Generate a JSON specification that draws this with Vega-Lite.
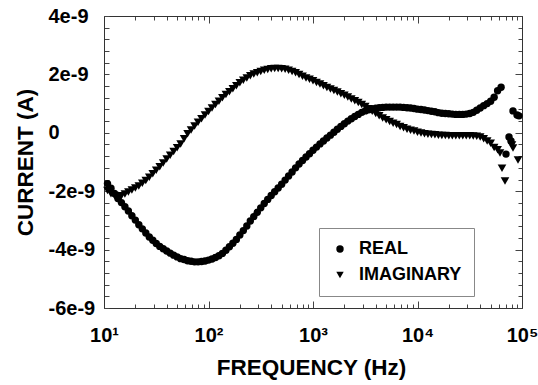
{
"$schema": "https://vega.github.io/schema/vega-lite/v6.json",
"width": 418, "height": 292,
"autosize": {"type": "none"},
"padding": {"left": 104, "top": 16, "right": 16, "bottom": 77},
"background": "white",
"config": {"view": {"stroke": null}, "font": "Liberation Sans"},
"data": {"values": [
{"f":10.8,"REAL":-1.74e-9,"IMAGINARY":-1.98e-9},
{"f":11.66,"REAL":-1.9e-9,"IMAGINARY":-2.09e-9},
{"f":12.59,"REAL":-2.08e-9,"IMAGINARY":-2.15e-9},
{"f":13.59,"REAL":-2.25e-9,"IMAGINARY":-2.18e-9},
{"f":14.68,"REAL":-2.39e-9,"IMAGINARY":-2.16e-9},
{"f":15.85,"REAL":-2.53e-9,"IMAGINARY":-2.1e-9},
{"f":17.11,"REAL":-2.68e-9,"IMAGINARY":-2.03e-9},
{"f":18.48,"REAL":-2.84e-9,"IMAGINARY":-1.96e-9},
{"f":19.95,"REAL":-2.99e-9,"IMAGINARY":-1.89e-9},
{"f":21.54,"REAL":-3.15e-9,"IMAGINARY":-1.82e-9},
{"f":23.26,"REAL":-3.29e-9,"IMAGINARY":-1.73e-9},
{"f":25.12,"REAL":-3.43e-9,"IMAGINARY":-1.63e-9},
{"f":27.12,"REAL":-3.57e-9,"IMAGINARY":-1.52e-9},
{"f":29.29,"REAL":-3.68e-9,"IMAGINARY":-1.4e-9},
{"f":31.62,"REAL":-3.79e-9,"IMAGINARY":-1.28e-9},
{"f":34.15,"REAL":-3.89e-9,"IMAGINARY":-1.16e-9},
{"f":36.87,"REAL":-3.97e-9,"IMAGINARY":-1.03e-9},
{"f":39.81,"REAL":-4.05e-9,"IMAGINARY":-0.9e-9},
{"f":42.99,"REAL":-4.12e-9,"IMAGINARY":-0.77e-9},
{"f":46.42,"REAL":-4.19e-9,"IMAGINARY":-0.64e-9},
{"f":50.12,"REAL":-4.25e-9,"IMAGINARY":-0.51e-9},
{"f":54.12,"REAL":-4.31e-9,"IMAGINARY":-0.38e-9},
{"f":58.43,"REAL":-4.34e-9,"IMAGINARY":-0.2e-9},
{"f":63.1,"REAL":-4.38e-9,"IMAGINARY":-0.03e-9},
{"f":68.13,"REAL":-4.4e-9,"IMAGINARY":0.1e-9},
{"f":73.56,"REAL":-4.42e-9,"IMAGINARY":0.23e-9},
{"f":79.43,"REAL":-4.42e-9,"IMAGINARY":0.36e-9},
{"f":85.77,"REAL":-4.41e-9,"IMAGINARY":0.48e-9},
{"f":92.61,"REAL":-4.39e-9,"IMAGINARY":0.61e-9},
{"f":100,"REAL":-4.36e-9,"IMAGINARY":0.73e-9},
{"f":108,"REAL":-4.32e-9,"IMAGINARY":0.85e-9},
{"f":116.6,"REAL":-4.27e-9,"IMAGINARY":0.97e-9},
{"f":125.9,"REAL":-4.21e-9,"IMAGINARY":1.08e-9},
{"f":135.9,"REAL":-4.13e-9,"IMAGINARY":1.2e-9},
{"f":146.8,"REAL":-4.02e-9,"IMAGINARY":1.31e-9},
{"f":158.5,"REAL":-3.9e-9,"IMAGINARY":1.41e-9},
{"f":171.1,"REAL":-3.78e-9,"IMAGINARY":1.51e-9},
{"f":184.8,"REAL":-3.65e-9,"IMAGINARY":1.61e-9},
{"f":199.5,"REAL":-3.5e-9,"IMAGINARY":1.71e-9},
{"f":215.4,"REAL":-3.35e-9,"IMAGINARY":1.8e-9},
{"f":232.6,"REAL":-3.19e-9,"IMAGINARY":1.88e-9},
{"f":251.2,"REAL":-3.02e-9,"IMAGINARY":1.95e-9},
{"f":271.2,"REAL":-2.87e-9,"IMAGINARY":2.01e-9},
{"f":292.9,"REAL":-2.72e-9,"IMAGINARY":2.06e-9},
{"f":316.2,"REAL":-2.57e-9,"IMAGINARY":2.1e-9},
{"f":341.5,"REAL":-2.42e-9,"IMAGINARY":2.14e-9},
{"f":368.7,"REAL":-2.28e-9,"IMAGINARY":2.17e-9},
{"f":398.1,"REAL":-2.15e-9,"IMAGINARY":2.19e-9},
{"f":429.9,"REAL":-2.02e-9,"IMAGINARY":2.2e-9},
{"f":464.2,"REAL":-1.89e-9,"IMAGINARY":2.2e-9},
{"f":501.2,"REAL":-1.76e-9,"IMAGINARY":2.19e-9},
{"f":541.2,"REAL":-1.62e-9,"IMAGINARY":2.18e-9},
{"f":584.3,"REAL":-1.48e-9,"IMAGINARY":2.14e-9},
{"f":631,"REAL":-1.34e-9,"IMAGINARY":2.1e-9},
{"f":681.3,"REAL":-1.2e-9,"IMAGINARY":2.06e-9},
{"f":735.6,"REAL":-1.07e-9,"IMAGINARY":2.0e-9},
{"f":794.3,"REAL":-0.95e-9,"IMAGINARY":1.94e-9},
{"f":857.7,"REAL":-0.83e-9,"IMAGINARY":1.88e-9},
{"f":926.1,"REAL":-0.72e-9,"IMAGINARY":1.83e-9},
{"f":1000,"REAL":-0.6e-9,"IMAGINARY":1.78e-9},
{"f":1080,"REAL":-0.49e-9,"IMAGINARY":1.72e-9},
{"f":1166,"REAL":-0.38e-9,"IMAGINARY":1.67e-9},
{"f":1259,"REAL":-0.28e-9,"IMAGINARY":1.61e-9},
{"f":1359,"REAL":-0.18e-9,"IMAGINARY":1.55e-9},
{"f":1468,"REAL":-0.08e-9,"IMAGINARY":1.5e-9},
{"f":1585,"REAL":0.02e-9,"IMAGINARY":1.45e-9},
{"f":1711,"REAL":0.12e-9,"IMAGINARY":1.4e-9},
{"f":1848,"REAL":0.22e-9,"IMAGINARY":1.34e-9},
{"f":1995,"REAL":0.31e-9,"IMAGINARY":1.29e-9},
{"f":2154,"REAL":0.4e-9,"IMAGINARY":1.23e-9},
{"f":2326,"REAL":0.48e-9,"IMAGINARY":1.16e-9},
{"f":2512,"REAL":0.56e-9,"IMAGINARY":1.1e-9},
{"f":2712,"REAL":0.63e-9,"IMAGINARY":1.04e-9},
{"f":2929,"REAL":0.7e-9,"IMAGINARY":0.97e-9},
{"f":3162,"REAL":0.75e-9,"IMAGINARY":0.9e-9},
{"f":3415,"REAL":0.79e-9,"IMAGINARY":0.82e-9},
{"f":3687,"REAL":0.82e-9,"IMAGINARY":0.74e-9},
{"f":3981,"REAL":0.84e-9,"IMAGINARY":0.66e-9},
{"f":4299,"REAL":0.86e-9,"IMAGINARY":0.58e-9},
{"f":4642,"REAL":0.87e-9,"IMAGINARY":0.51e-9},
{"f":5012,"REAL":0.88e-9,"IMAGINARY":0.45e-9},
{"f":5412,"REAL":0.88e-9,"IMAGINARY":0.39e-9},
{"f":5843,"REAL":0.88e-9,"IMAGINARY":0.33e-9},
{"f":6310,"REAL":0.88e-9,"IMAGINARY":0.28e-9},
{"f":6813,"REAL":0.88e-9,"IMAGINARY":0.22e-9},
{"f":7356,"REAL":0.87e-9,"IMAGINARY":0.17e-9},
{"f":7943,"REAL":0.86e-9,"IMAGINARY":0.12e-9},
{"f":8577,"REAL":0.85e-9,"IMAGINARY":0.09e-9},
{"f":9261,"REAL":0.83e-9,"IMAGINARY":0.06e-9},
{"f":10000,"REAL":0.81e-9,"IMAGINARY":0.02e-9},
{"f":10800,"REAL":0.8e-9,"IMAGINARY":-0.01e-9},
{"f":11660,"REAL":0.78e-9,"IMAGINARY":-0.03e-9},
{"f":12590,"REAL":0.76e-9,"IMAGINARY":-0.05e-9},
{"f":13590,"REAL":0.74e-9,"IMAGINARY":-0.06e-9},
{"f":14680,"REAL":0.72e-9,"IMAGINARY":-0.07e-9},
{"f":15850,"REAL":0.69e-9,"IMAGINARY":-0.08e-9},
{"f":17110,"REAL":0.67e-9,"IMAGINARY":-0.09e-9},
{"f":18480,"REAL":0.66e-9,"IMAGINARY":-0.09e-9},
{"f":19950,"REAL":0.65e-9,"IMAGINARY":-0.1e-9},
{"f":21540,"REAL":0.64e-9,"IMAGINARY":-0.1e-9},
{"f":23260,"REAL":0.63e-9,"IMAGINARY":-0.1e-9},
{"f":25120,"REAL":0.63e-9,"IMAGINARY":-0.1e-9},
{"f":27120,"REAL":0.63e-9,"IMAGINARY":-0.1e-9},
{"f":29290,"REAL":0.64e-9,"IMAGINARY":-0.1e-9},
{"f":31620,"REAL":0.66e-9,"IMAGINARY":-0.1e-9},
{"f":34150,"REAL":0.7e-9,"IMAGINARY":-0.11e-9},
{"f":36870,"REAL":0.77e-9,"IMAGINARY":-0.12e-9},
{"f":39810,"REAL":0.85e-9,"IMAGINARY":-0.14e-9},
{"f":42990,"REAL":0.93e-9,"IMAGINARY":-0.2e-9},
{"f":46420,"REAL":1.0e-9,"IMAGINARY":-0.28e-9},
{"f":50120,"REAL":1.08e-9,"IMAGINARY":-0.36e-9},
{"f":54120,"REAL":1.22e-9,"IMAGINARY":-0.5e-9},
{"f":58430,"REAL":1.44e-9,"IMAGINARY":-0.58e-9},
{"f":61600,"IMAGINARY":-0.69e-9},
{"f":63100,"REAL":1.56e-9},
{"f":64370,"IMAGINARY":-1.21e-9},
{"f":68760,"IMAGINARY":-1.65e-9},
{"f":70300,"REAL":-0.73e-9},
{"f":75100,"REAL":-0.14e-9},
{"f":78500,"REAL":-0.28e-9},
{"f":80200,"IMAGINARY":-0.42e-9},
{"f":82000,"REAL":0.75e-9,"IMAGINARY":-0.52e-9},
{"f":89600,"REAL":0.61e-9},
{"f":91600,"IMAGINARY":-0.93e-9},
{"f":93600,"REAL":0.58e-9}
]},
"transform": [
  {"fold": ["REAL", "IMAGINARY"], "as": ["s", "i"]},
  {"filter": "datum.i != null"}
],
"layer": [
  {
    "transform": [{"filter": "datum.s == 'REAL'"}],
    "mark": {"type": "point", "filled": true, "color": "black", "opacity": 1, "size": 55},
    "encoding": {
      "x": {"field": "f", "type": "quantitative",
        "scale": {"type": "log", "domain": [10, 100000]},
        "axis": {"orient": "bottom", "grid": false,
          "values": [10,20,30,40,50,60,70,80,90,100,200,300,400,500,600,700,800,900,1000,2000,3000,4000,5000,6000,7000,8000,9000,10000,20000,30000,40000,50000,60000,70000,80000,90000,100000],
          "labelExpr": "datum.value == 10 ? '10¹' : datum.value == 100 ? '10²' : datum.value == 1000 ? '10³' : datum.value == 10000 ? '10⁴' : datum.value == 100000 ? '10⁵' : ''",
          "labelFont": "Liberation Sans", "labelFontSize": 20, "labelFontWeight": "bold", "labelColor": "black",
          "labelPadding": 24, "labelOverlap": false, "labelFlush": false,
          "tickSize": {"condition": {"test": "indexof([10,100,1000,10000,100000], datum.value) >= 0", "value": -7}, "value": -4},
          "tickColor": "#444", "domainColor": "#333",
          "title": "FREQUENCY (Hz)", "titleFont": "Liberation Sans", "titleFontSize": 22.5, "titleFontWeight": "bold", "titleColor": "black",
          "titleX": 207, "titleY": 59, "titleBaseline": "middle", "titleAlign": "center"}},
      "y": {"field": "i", "type": "quantitative",
        "scale": {"domain": [-6e-9, 4e-9], "nice": false, "zero": false},
        "axis": {"orient": "left", "grid": false,
          "values": [-6e-9,-5.6e-9,-5.2e-9,-4.8e-9,-4.4e-9,-4e-9,-3.6e-9,-3.2e-9,-2.8e-9,-2.4e-9,-2e-9,-1.6e-9,-1.2e-9,-8e-10,-4e-10,0,4e-10,8e-10,1.2e-9,1.6e-9,2e-9,2.4e-9,2.8e-9,3.2e-9,3.6e-9,4e-9],
          "labelExpr": "round(datum.value*1e10) % 20 == 0 ? (datum.value == 0 ? '0' : round(datum.value*1e9) + 'e-9') : ''",
          "labelFont": "Liberation Sans", "labelFontSize": 20, "labelFontWeight": "bold", "labelColor": "black",
          "labelAlign": "left", "labelPadding": 61,
          "labelOverlap": false, "labelFlush": false,
          "encode": {"labels": {"update": {"dx": {"signal": "datum.value < 0 ? -7 : 0"}}}},
          "tickSize": -5,
          "tickColor": "#444", "domainColor": "#333",
          "title": "CURRENT (A)", "titleFont": "Liberation Sans", "titleFontSize": 22.5, "titleFontWeight": "bold", "titleColor": "black",
          "titleX": -79, "titleY": 146, "titleAngle": -90, "titleBaseline": "middle", "titleAlign": "center"}},
      "shape": {"field": "s", "type": "nominal",
        "scale": {"domain": ["REAL", "IMAGINARY"], "range": ["circle", "triangle-down"]},
        "legend": {"orient": "none", "legendX": 215, "legendY": 212, "title": null,
          "labelFont": "Liberation Sans", "labelFontSize": 18, "labelFontWeight": "bold", "labelColor": "black",
          "symbolFillColor": "black", "symbolStrokeColor": "black", "symbolSize": 55,
          "strokeColor": "#888", "fillColor": "white", "padding": 12, "rowPadding": 8,
          "symbolOffset": 0, "labelOffset": 10}}
    }
  },
  {
    "transform": [{"filter": "datum.s == 'IMAGINARY'"}],
    "mark": {"type": "point", "filled": true, "color": "black", "opacity": 1, "size": 75},
    "encoding": {
      "x": {"field": "f", "type": "quantitative", "scale": {"type": "log", "domain": [10, 100000]}, "axis": null},
      "y": {"field": "i", "type": "quantitative", "scale": {"domain": [-6e-9, 4e-9], "nice": false, "zero": false}, "axis": null},
      "shape": {"field": "s", "type": "nominal",
        "scale": {"domain": ["REAL", "IMAGINARY"], "range": ["circle", "triangle-down"]}}
    }
  },
  {
    "mark": {"type": "point", "opacity": 0},
    "encoding": {
      "x": {"field": "f", "type": "quantitative",
        "scale": {"type": "log", "domain": [10, 100000]},
        "axis": {"orient": "top", "grid": false, "labels": false, "title": null,
          "values": [10,20,30,40,50,60,70,80,90,100,200,300,400,500,600,700,800,900,1000,2000,3000,4000,5000,6000,7000,8000,9000,10000,20000,30000,40000,50000,60000,70000,80000,90000,100000],
          "tickSize": {"condition": {"test": "indexof([10,100,1000,10000,100000], datum.value) >= 0", "value": -7}, "value": -4},
          "tickColor": "#444", "domainColor": "#333"}},
      "y": {"field": "i", "type": "quantitative",
        "scale": {"domain": [-6e-9, 4e-9], "nice": false, "zero": false},
        "axis": {"orient": "right", "grid": false, "labels": false, "title": null,
          "values": [-6e-9,-5.6e-9,-5.2e-9,-4.8e-9,-4.4e-9,-4e-9,-3.6e-9,-3.2e-9,-2.8e-9,-2.4e-9,-2e-9,-1.6e-9,-1.2e-9,-8e-10,-4e-10,0,4e-10,8e-10,1.2e-9,1.6e-9,2e-9,2.4e-9,2.8e-9,3.2e-9,3.6e-9,4e-9],
          "tickSize": {"condition": {"test": "round(datum.value*1e10) % 20 == 0", "value": -7}, "value": -4},
          "tickColor": "#444", "domainColor": "#333"}}
    }
  }
],
"resolve": {"axis": {"x": "independent", "y": "independent"}}
}
